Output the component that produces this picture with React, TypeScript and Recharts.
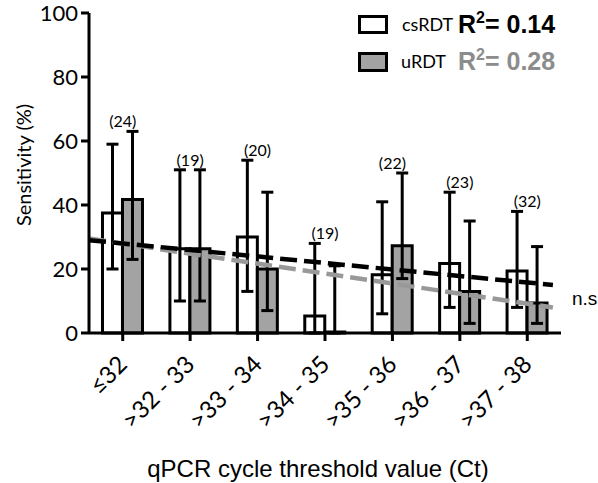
import {
  ComposedChart,
  Bar,
  Line,
  XAxis,
  YAxis,
  ErrorBar,
  LabelList,
} from "recharts";

const categories = [
  "≤32",
  ">32 - 33",
  ">33 - 34",
  ">34 - 35",
  ">35 - 36",
  ">36 - 37",
  ">37 - 38",
];
const sampleN = [24, 19, 20, 19, 22, 23, 32];

// sensitivity (%) with 95% CI bounds
const csRDT = [37.5, 26.3, 30, 5.3, 18.2, 21.7, 19.4];
const csLow = [20, 10, 13, 0, 6, 8, 8];
const csHigh = [59, 51, 54, 28, 41, 44, 38];
const uRDT = [41.7, 26.3, 20, 0, 27.3, 13, 9.4];
const uLow = [23, 10, 7, 0, 17, 3, 3];
const uHigh = [63, 51, 44, 21, 50, 35, 27];

// linear trend end points (x in category units from left edge)
const trendX = [0, 6.88];
const csTrend = [29, 15];
const uTrend = [29.5, 8];

const yTicks = [0, 20, 40, 60, 80, 100];

const data = categories.map((cat, i) => ({
  cat,
  cs: csRDT[i],
  csErr: [csRDT[i] - csLow[i], csHigh[i] - csRDT[i]],
  u: uRDT[i],
  uErr: [uRDT[i] - uLow[i], uHigh[i] - uRDT[i]],
  top: Math.max(csHigh[i], uHigh[i]),
  n: sampleN[i],
}));

const csLine = trendX.map((x, i) => ({ x, y: csTrend[i] }));
const uLine = trendX.map((x, i) => ({ x, y: uTrend[i] }));

const GRAY = "#a3a3a3";
const FONT = "Lato, 'Noto Sans', sans-serif";
const ARIAL = "'Liberation Sans', Arial, sans-serif";

const XTick = (props: any) => {
  const { x, payload } = props;
  const tx = x + 6;
  const ty = 333 + 33;
  return (
    <text
      x={tx}
      y={ty}
      transform={`rotate(-45 ${tx} ${ty})`}
      textAnchor="end"
      fontFamily={FONT}
      fontSize={24}
      fill="#000"
    >
      {payload.value}
    </text>
  );
};

export default function App() {
  return (
    <div style={{ position: "relative", width: 598, height: 483, overflow: "hidden" }}>
      <style>{"html,body{margin:0;padding:0;overflow:hidden}"}</style>
      <ComposedChart
        width={598}
        height={483}
        data={data}
        margin={{ top: 13, right: 37, bottom: 50, left: 0 }}
        barCategoryGap="20%"
        barGap={0}
      >
        <XAxis
          dataKey="cat"
          height={100}
          tickSize={8}
          tick={<XTick />}
          interval={0}
          axisLine={{ stroke: "#000", strokeWidth: 3 }}
          tickLine={{ stroke: "#000", strokeWidth: 3 }}
        />
        <XAxis
          xAxisId="t"
          type="number"
          dataKey="x"
          domain={[0, 7]}
          allowDataOverflow
          hide
        />
        <YAxis
          width={89}
          domain={[0, 100]}
          ticks={yTicks}
          tickSize={8}
          tickMargin={3}
          axisLine={{ stroke: "#000", strokeWidth: 3 }}
          tickLine={{ stroke: "#000", strokeWidth: 3 }}
          tick={{ fill: "#000", fontSize: 22, fontFamily: FONT }}
        />
        <Bar
          dataKey="cs"
          fill="#fff"
          stroke="#000"
          strokeWidth={3}
          isAnimationActive={false}
        >
          <ErrorBar dataKey="csErr" width={6} stroke="#000" strokeWidth={3} />
        </Bar>
        <Bar
          dataKey="u"
          fill={GRAY}
          stroke="#000"
          strokeWidth={3}
          minPointSize={1}
          isAnimationActive={false}
        >
          <ErrorBar dataKey="uErr" width={6} stroke="#000" strokeWidth={3} />
        </Bar>
        <Line
          xAxisId="t"
          data={uLine}
          dataKey="y"
          stroke="#999"
          strokeWidth={4.5}
          strokeDasharray="17 7"
          dot={false}
          activeDot={false}
          isAnimationActive={false}
        />
        <Line
          xAxisId="t"
          data={csLine}
          dataKey="y"
          stroke="#000"
          strokeWidth={4.5}
          strokeDasharray="17 7"
          dot={false}
          activeDot={false}
          isAnimationActive={false}
        />
        <Line
          dataKey="top"
          stroke="none"
          dot={false}
          activeDot={false}
          isAnimationActive={false}
        >
          <LabelList
            dataKey="n"
            position="top"
            offset={4}
            formatter={(v: any) => `(${v})`}
            style={{ fontFamily: FONT, fontSize: 16, fill: "#000" }}
          />
        </Line>
      </ComposedChart>
      <svg
        width={598}
        height={483}
        style={{ position: "absolute", left: 0, top: 0, pointerEvents: "none" }}
      >
        <text
          x={23}
          y={165}
          transform="rotate(-90 23 165)"
          textAnchor="middle"
          dominantBaseline="central"
          fontFamily={FONT}
          fontSize={20}
        >
          Sensitivity (%)
        </text>
        <text x={318} y={477} textAnchor="middle" fontFamily={ARIAL} fontSize={24}>
          qPCR cycle threshold value (Ct)
        </text>
        <rect x={359.5} y={16.5} width={27} height={16} fill="#fff" stroke="#000" strokeWidth={3} />
        <rect x={359.5} y={53.5} width={27} height={17} fill={GRAY} stroke="#000" strokeWidth={3} />
        <text x={402} y={31} fontFamily={FONT} fontSize={18}>
          csRDT
        </text>
        <text x={401} y={68} fontFamily={FONT} fontSize={18}>
          uRDT
        </text>
        <text x={458} y={33} fontFamily={ARIAL} fontWeight="bold" fontSize={25} fill="#000">
          R<tspan fontSize={16} dy={-10}>2</tspan>
          <tspan dy={10}>= 0.14</tspan>
        </text>
        <text x={458} y={70} fontFamily={ARIAL} fontWeight="bold" fontSize={25} fill="#8c8c8c">
          R<tspan fontSize={16} dy={-10}>2</tspan>
          <tspan dy={10}>= 0.28</tspan>
        </text>
        <text x={572} y={305} fontFamily={ARIAL} fontSize={19}>
          n.s
        </text>
      </svg>
    </div>
  );
}
